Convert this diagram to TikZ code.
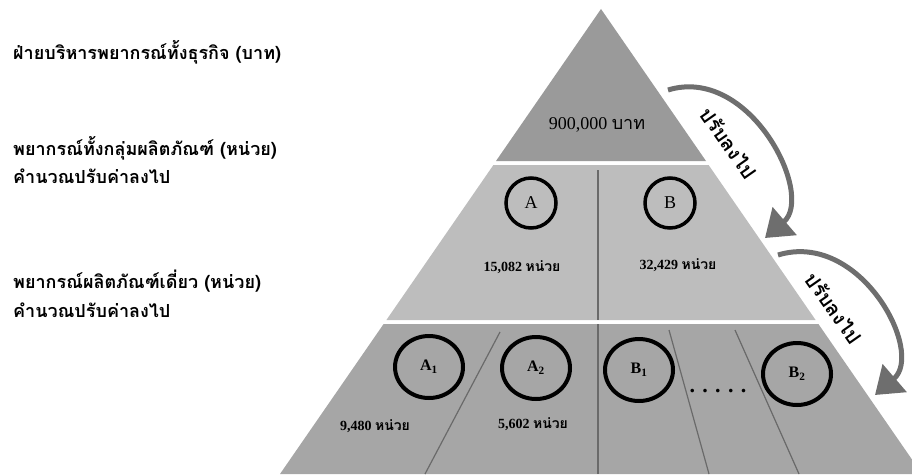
\documentclass[tikz,border=0pt]{standalone}
\usepackage{fontspec}
\setmainfont{Liberation Serif}
\newfontfamily\thaifont[Script=Thai]{Loma}
\usetikzlibrary{arrows.meta,shapes.geometric}

\definecolor{topTier}{HTML}{9A9A9A}
\definecolor{midTier}{HTML}{BDBDBD}
\definecolor{lowTier}{HTML}{A6A6A6}
\definecolor{arrowGrey}{HTML}{6E6E6E}
\definecolor{lineGrey}{HTML}{6A6A6A}

\tikzset{
  divider/.style={draw=lineGrey, line width=1.2pt},
  group/.style={draw=black, line width=3.5pt, circle, minimum size=50pt, inner sep=0pt,
    font=\fontsize{18}{20}\selectfont},
  item/.style={draw=black, line width=4pt, ellipse, minimum width=68pt, minimum height=62pt,
    inner sep=0pt, font=\bfseries\fontsize{16}{18}\selectfont},
  amount/.style={font=\bfseries\fontsize{14}{16}\selectfont},
  sidelabel/.style={anchor=west, inner sep=0pt, font=\thaifont\bfseries\fontsize{18}{22}\selectfont},
  push/.style={draw=arrowGrey, line width=5pt, -{Triangle[width=36pt,length=26pt]}},
  pushlabel/.style={rotate=-55, inner sep=0pt, font=\thaifont\bfseries\fontsize{20}{22}\selectfont}
}

\begin{document}
\begin{tikzpicture}[x=1pt,y=-1pt]
    \useasboundingbox (0,0) rectangle (912,476);
    \clip (0,0) rectangle (912,476);

    % Pyramid tiers
    \fill[topTier] (601,9) -- (706,161) -- (496,161) -- cycle;
    \fill[midTier] (493.4,165) -- (708.6,165) -- (815.6,320) -- (386.4,320) -- cycle;
    \fill[lowTier] (383.6,324) -- (818.4,324) -- (922,474) -- (280,474) -- cycle;

    % Dividers
    \draw[divider] (598,170) -- (598,320);
    \draw[divider] (598,324) -- (598,474);
    \draw[divider] (500,332) -- (425,474);
    \draw[divider] (669,330) -- (709,474);
    \draw[divider] (735,330) -- (799,474);

    % Side labels
    \node[sidelabel] (headLabel) at (13,52) {ฝ่ายบริหารพยากรณ์ทั้งธุรกิจ (บาท)};
    \node[sidelabel] (groupLabel) at (13,148) {พยากรณ์ทั้งกลุ่มผลิตภัณฑ์ (หน่วย)};
    \node[sidelabel] (groupNote) at (13,176) {คำนวณปรับค่าลงไป};
    \node[sidelabel] (itemLabel) at (13,281) {พยากรณ์ผลิตภัณฑ์เดี่ยว (หน่วย)};
    \node[sidelabel] (itemNote) at (13,310) {คำนวณปรับค่าลงไป};

    % Top tier
    \node[font=\fontsize{18}{20}\selectfont] (total) at (597,125) {900,000 {\thaifont บาท}};

    % Middle tier
    \node[group] (grpA) at (531,203) {A};
    \node[group] (grpB) at (670,203) {B};
    \node[amount] (grpAval) at (522,267) {15,082 {\thaifont หน่วย}};
    \node[amount] (grpBval) at (678,265) {32,429 {\thaifont หน่วย}};

    % Bottom tier
    \node[item] (itemAone) at (429,367) {A\textsubscript{1}};
    \node[item] (itemAtwo) at (536,368) {A\textsubscript{2}};
    \node[item] (itemBone) at (639,370) {B\textsubscript{1}};
    \node[item] (itemBtwo) at (797,374) {B\textsubscript{2}};
    \node[amount] (itemAoneval) at (375,426) {9,480 {\thaifont หน่วย}};
    \node[amount] (itemAtwoval) at (533,424) {5,602 {\thaifont หน่วย}};
    \node[font=\bfseries\fontsize{22}{24}\selectfont] (more) at (718,391) {. . . . .};

    % Arrows
    \coordinate (tailOne) at (668,90);
    \coordinate (tipOne) at (765,238);
    \coordinate (tailTwo) at (778,255);
    \coordinate (tipTwo) at (875,395);
    \draw[push] (tailOne) .. controls (750,65) and (815,195) .. (tipOne);
    \draw[push] (tailTwo) .. controls (860,230) and (925,352) .. (tipTwo);
    \node[pushlabel] (pushOne) at (729,143) {ปรับลงไป};
    \node[pushlabel] (pushTwo) at (834,308) {ปรับลงไป};

\end{tikzpicture}
\end{document}
